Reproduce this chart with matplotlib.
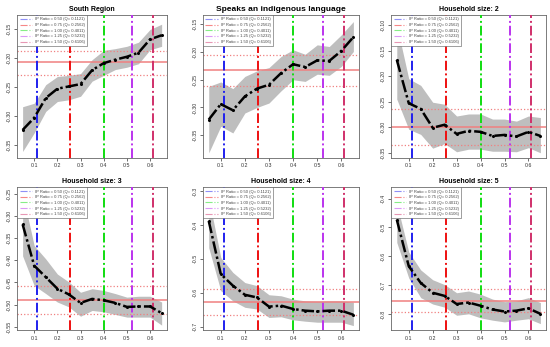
import matplotlib
matplotlib.use("Agg")
import matplotlib.pyplot as plt
import numpy as np

plt.rcParams["font.family"] = ["Liberation Sans", "DejaVu Sans"]

# --------------------------------------------------------------------------
x = [0.05, 0.10, 0.15, 0.20, 0.25, 0.30, 0.35, 0.40, 0.45, 0.50, 0.55, 0.60, 0.65]

titles = ["South Region", "Speaks an indigenous language", "Household size: 2",
          "Household size: 3", "Household size: 4", "Household size: 5"]

est = [
    [-0.324, -0.303, -0.269, -0.253, -0.249, -0.245, -0.221, -0.209, -0.203, -0.198, -0.191, -0.168, -0.161],
    [-0.322, -0.294, -0.305, -0.280, -0.266, -0.259, -0.238, -0.222, -0.227, -0.215, -0.216, -0.198, -0.173],
    [-0.168, -0.253, -0.264, -0.301, -0.295, -0.313, -0.307, -0.309, -0.317, -0.315, -0.318, -0.309, -0.317],
    [-0.319, -0.412, -0.438, -0.464, -0.477, -0.496, -0.487, -0.490, -0.496, -0.505, -0.504, -0.504, -0.519],
    [-0.388, -0.545, -0.579, -0.606, -0.614, -0.641, -0.638, -0.648, -0.653, -0.655, -0.653, -0.653, -0.665],
    [-0.473, -0.634, -0.692, -0.726, -0.737, -0.765, -0.760, -0.771, -0.784, -0.791, -0.788, -0.780, -0.799],
]
upper = [
    [-0.284, -0.278, -0.246, -0.232, -0.230, -0.227, -0.203, -0.187, -0.184, -0.180, -0.173, -0.151, -0.142],
    [-0.262, -0.254, -0.266, -0.244, -0.234, -0.228, -0.208, -0.196, -0.204, -0.187, -0.190, -0.169, -0.145],
    [-0.100, -0.205, -0.218, -0.251, -0.255, -0.278, -0.274, -0.274, -0.284, -0.284, -0.288, -0.278, -0.281],
    [-0.250, -0.367, -0.397, -0.431, -0.449, -0.472, -0.464, -0.468, -0.475, -0.483, -0.481, -0.481, -0.494],
    [-0.320, -0.496, -0.540, -0.570, -0.579, -0.606, -0.609, -0.619, -0.624, -0.625, -0.624, -0.624, -0.628],
    [-0.417, -0.585, -0.647, -0.681, -0.698, -0.726, -0.720, -0.731, -0.748, -0.757, -0.754, -0.743, -0.760],
]
lower = [
    [-0.361, -0.329, -0.292, -0.275, -0.272, -0.266, -0.240, -0.230, -0.220, -0.216, -0.210, -0.186, -0.180],
    [-0.382, -0.334, -0.346, -0.310, -0.300, -0.292, -0.270, -0.250, -0.253, -0.240, -0.242, -0.226, -0.199],
    [-0.245, -0.304, -0.314, -0.341, -0.332, -0.348, -0.343, -0.343, -0.347, -0.347, -0.348, -0.340, -0.350],
    [-0.390, -0.457, -0.475, -0.494, -0.505, -0.526, -0.513, -0.516, -0.522, -0.528, -0.528, -0.528, -0.546],
    [-0.467, -0.594, -0.624, -0.643, -0.648, -0.673, -0.671, -0.680, -0.684, -0.687, -0.687, -0.687, -0.697],
    [-0.552, -0.675, -0.743, -0.765, -0.776, -0.804, -0.799, -0.813, -0.821, -0.827, -0.821, -0.816, -0.833],
]
# overall mean (solid) and its band (dotted)
hmean = [-0.207, -0.232, -0.299, -0.490, -0.628, -0.754]
hlow = [-0.229, -0.261, -0.335, -0.520, -0.665, -0.791]
hhigh = [-0.188, -0.205, -0.264, -0.459, -0.589, -0.712]

ylims = [(-0.372, -0.126), (-0.391, -0.133), (-0.360, -0.080),
         (-0.557, -0.235), (-0.710, -0.288), (-0.855, -0.360)]
yticks = [
    [-0.35, -0.30, -0.25, -0.20, -0.15],
    [-0.35, -0.30, -0.25, -0.20, -0.15],
    [-0.35, -0.30, -0.25, -0.20, -0.15, -0.10],
    [-0.55, -0.50, -0.45, -0.40, -0.35, -0.30, -0.25],
    [-0.7, -0.6, -0.5, -0.4, -0.3],
    [-0.8, -0.7, -0.6, -0.5, -0.4],
]
ytickfmt = ["%.2f", "%.2f", "%.2f", "%.2f", "%.1f", "%.1f"]

q_vals = [0.1121, 0.2562, 0.4011, 0.5232, 0.6106]
ip_ratio = [0.50, 0.75, 1.00, 1.25, 1.50]
q_colors = ["#2020ee", "#ee1010", "#10dd10", "#bb33ee", "#d0306a"]

# axes boxes in figure fraction [left, bottom, width, height]
boxes = [
    [0.031, 0.545, 0.273, 0.412],
    [0.369, 0.545, 0.284, 0.412],
    [0.711, 0.545, 0.282, 0.412],
    [0.031, 0.049, 0.273, 0.412],
    [0.369, 0.049, 0.284, 0.412],
    [0.711, 0.049, 0.282, 0.412],
]

# --------------------------------------------------------------------------
fig = plt.figure(figsize=(5.5, 3.47), dpi=100)

for i in range(6):
    ax = fig.add_axes(boxes[i])
    ax.fill_between(x, lower[i], upper[i], color="#bebebe", lw=0, zorder=1)

    ax.axhline(hmean[i], color="#f08080", lw=1.1, zorder=2)
    ax.axhline(hlow[i], color="#f08080", lw=0.9, ls=":", zorder=2)
    ax.axhline(hhigh[i], color="#f08080", lw=0.9, ls=":", zorder=2)

    for q, c in zip(q_vals, q_colors):
        ax.axvline(q, color=c, lw=1.4, ls=(0, (5, 1.5, 1, 1.5)), zorder=3)

    ax.plot(x, est[i], color="black", lw=1.8, ls=(0, (5, 1.2, 1, 1.2)),
            marker="o", ms=1.2, zorder=4)

    ax.set_xlim(0.026, 0.674)
    ax.set_ylim(*ylims[i])
    ax.set_xticks([0.1, 0.2, 0.3, 0.4, 0.5, 0.6])
    ax.set_xticklabels(["0.1", "0.2", "0.3", "0.4", "0.5", "0.6"], fontsize=3.8)
    ax.set_yticks(yticks[i])
    ax.set_yticklabels([ytickfmt[i] % v for v in yticks[i]], fontsize=3.8,
                       rotation=90, va="center")
    ax.tick_params(length=2.5, width=0.5, pad=1.5, colors="#333333")
    for s in ax.spines.values():
        s.set_linewidth(0.6)
        s.set_color("#666666")

    ax.set_title(titles[i], fontsize=6 if i == 1 else 5, fontweight="bold", pad=3)

    handles = [plt.Line2D([], [], color=c, lw=0.8, alpha=0.5, ls="-.")
               for c in q_colors]
    labels = ["IP Ratio = %.2f (Q= %.4f)" % (r, q) for r, q in zip(ip_ratio, q_vals)]
    leg = ax.legend(handles, labels, loc="upper left", fontsize=3.0,
                    frameon=True, fancybox=False, borderpad=0.5,
                    handlelength=3.0, labelspacing=0.4, borderaxespad=0.1)
    leg.get_frame().set_linewidth(0.4)
    leg.get_frame().set_edgecolor("#555555")
    leg.get_frame().set_alpha(1.0)
    for t in leg.get_texts():
        t.set_color("#444444")

fig.savefig("out.png", dpi=100)
